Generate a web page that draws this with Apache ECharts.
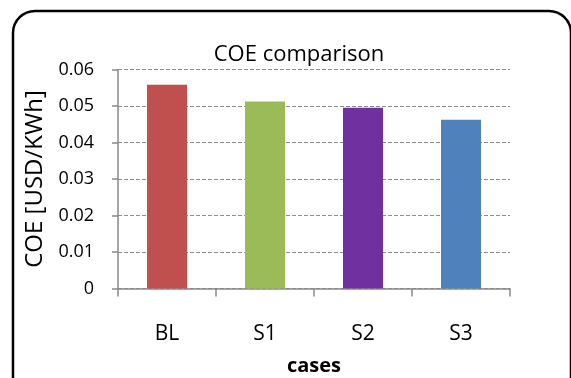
<!DOCTYPE html>
<html>
<head>
<meta charset="utf-8">
<script src="https://cdn.jsdelivr.net/npm/echarts@6/dist/echarts.min.js"></script>
<style>
  html, body { margin: 0; padding: 0; background: #fff; }
  #chart { width: 571px; height: 378px; }
</style>
</head>
<body>
<div id="chart"></div>
<script>
// Cost of electricity per case
const cases = ['BL', 'S1', 'S2', 'S3'];
const coeValues = [0.0558, 0.0512, 0.0495, 0.0462];
const yTicks = [0, 0.01, 0.02, 0.03, 0.04, 0.05, 0.06];

const barColors = ['#C0504D', '#9BBB59', '#7030A0', '#4F81BD'];
const font = '"Open Sans", "Noto Sans", sans-serif';
const axisGray = '#898989';

const chart = echarts.init(document.getElementById('chart'), null, { renderer: 'canvas' });

chart.setOption({
  animation: false,
  backgroundColor: '#fff',
  title: {
    text: 'COE comparison',
    left: 294,
    top: 39,
    textAlign: 'center',
    textStyle: { fontFamily: font, fontSize: 22, fontWeight: 'normal', color: '#000' }
  },
  graphic: [{
    type: 'rect',
    shape: { x: 13, y: 11, width: 558, height: 400, r: 22 },
    style: { fill: 'none', stroke: '#000', lineWidth: 2.5 },
    silent: true
  }],
  grid: {
    left: 118, right: 61, top: 69.5, bottom: 89.5,
    containLabel: false,
    outerBoundsMode: 'none'
  },
  xAxis: {
    type: 'category',
    data: cases,
    name: 'cases',
    nameLocation: 'middle',
    nameGap: 68,
    nameTextStyle: { fontFamily: font, fontSize: 20, fontWeight: 'bold', color: '#000' },
    axisLine: { lineStyle: { color: axisGray, width: 1.5 } },
    axisTick: { show: true, alignWithLabel: false, length: 8, lineStyle: { color: axisGray, width: 1.5 } },
    axisLabel: { fontFamily: font, fontSize: 21, color: '#000', margin: 35 },
    splitLine: { show: false }
  },
  yAxis: {
    type: 'value',
    min: yTicks[0],
    max: yTicks[yTicks.length - 1],
    interval: 0.01,
    name: 'COE [USD/KWh]',
    nameLocation: 'middle',
    nameGap: 70,
    nameRotate: 90,
    nameTextStyle: { fontFamily: font, fontSize: 24, color: '#000' },
    axisLine: { show: true, lineStyle: { color: axisGray, width: 1.5 } },
    axisTick: { show: true, length: 6, lineStyle: { color: axisGray, width: 1.5 } },
    axisLabel: {
      fontFamily: font, fontSize: 18, color: '#000', margin: 24,
      formatter: v => (Math.abs(v) < 1e-9 ? '0' : v.toFixed(2))
    },
    splitLine: { show: true, lineStyle: { color: '#8c8c8c', width: 1, type: [4, 2] } }
  },
  series: [{
    type: 'bar',
    barWidth: 40,
    data: coeValues.map((v, i) => ({ value: v, itemStyle: { color: barColors[i] } }))
  }]
});
</script>
</body>
</html>
